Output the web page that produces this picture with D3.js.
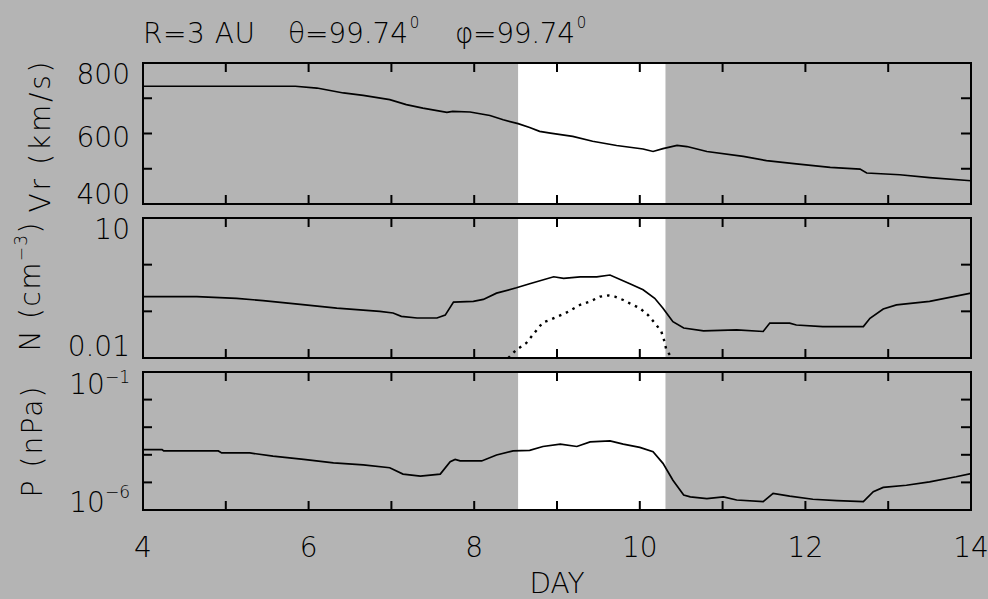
<!DOCTYPE html>
<html><head><meta charset="utf-8">
<script src="https://cdn.jsdelivr.net/npm/d3@7"></script>
<style>
html,body{margin:0;padding:0;background:#b4b4b4;}
svg{display:block;}
text{font-family:"DejaVu Sans ExtraLight","DejaVu Sans",sans-serif;font-weight:200;fill:#000;}
</style></head>
<body><svg id="c" width="988" height="599"></svg>
<script>
// ---- data ----
const xTickDays = [4,5,6,7,8,9,10,11,12,13,14];
const xLabelDays = [4,6,8,10,12,14];
const shadeStart = 8.53, shadeEnd = 10.31;

const vrDays = [4,5.84,6.1,6.42,6.66,6.98,7.18,7.38,7.67,7.74,7.95,8.19,8.35,8.53,8.67,8.79,8.92,9.19,9.43,9.72,10.04,10.16,10.28,10.45,10.57,10.81,11.25,11.53,11.89,12.30,12.66,12.74,13.14,13.50,14.0];
const vrVals = [734,734,729,715,708,696,682,672,660,663,661,651,639,628,617,606,601,592,578,566,556,549,557,566,563,549,535,523,514,504,499,488,483,475,466];
const vrTickLabels = [400,600,800];
const vrMinor = [500,600,700];

const nDays = [4,4.65,5.13,5.45,5.90,6.34,6.86,7.02,7.12,7.31,7.55,7.65,7.75,7.99,8.11,8.27,8.51,8.67,8.96,9.08,9.28,9.48,9.64,9.88,10.04,10.18,10.28,10.40,10.53,10.77,11.17,11.49,11.57,11.81,11.89,12.21,12.70,12.78,12.94,13.10,13.50,14.0];
const nVals = [0.206,0.206,0.19,0.17,0.141,0.117,0.10,0.092,0.078,0.072,0.072,0.083,0.158,0.163,0.18,0.245,0.32,0.39,0.55,0.51,0.55,0.55,0.60,0.39,0.29,0.19,0.117,0.060,0.044,0.038,0.040,0.037,0.056,0.056,0.051,0.047,0.047,0.071,0.112,0.137,0.163,0.245];
const nDotDays = [8.41,8.51,8.63,8.73,8.83,8.92,9.10,9.28,9.40,9.52,9.62,9.70,9.80,9.88,10.0,10.10,10.20,10.26,10.30,10.32,10.38];
const nDotVals = [0.010,0.015,0.021,0.035,0.058,0.066,0.091,0.138,0.163,0.206,0.22,0.206,0.175,0.148,0.117,0.083,0.051,0.037,0.022,0.015,0.0105];
const nTickLabels = ["0.01","10"];
const nMinor = [0.1,1];

const pDays = [4,4.23,4.25,4.91,4.95,5.29,5.57,5.94,6.30,6.66,6.98,7.14,7.35,7.59,7.71,7.77,7.83,8.09,8.27,8.47,8.67,8.83,9.04,9.24,9.40,9.64,9.80,10.0,10.16,10.28,10.40,10.53,10.61,10.81,11.01,11.17,11.49,11.61,11.81,12.09,12.38,12.70,12.82,12.94,13.22,13.50,13.82,14.0];
const pVals = [1.55e-4,1.55e-4,1.38e-4,1.38e-4,1.17e-4,1.17e-4,8.9e-5,6.8e-5,5.1e-5,4.3e-5,3.4e-5,2.0e-5,1.7e-5,2.0e-5,5.6e-5,6.8e-5,6.0e-5,6.0e-5,9.8e-5,1.38e-4,1.45e-4,2.0e-4,2.45e-4,2.0e-4,2.95e-4,3.2e-4,2.45e-4,1.86e-4,1.29e-4,4.9e-5,1.2e-5,3.5e-6,3.0e-6,2.6e-6,3.0e-6,2.3e-6,2.0e-6,4.0e-6,3.2e-6,2.45e-6,2.2e-6,2.0e-6,4.6e-6,6.6e-6,7.9e-6,1.05e-5,1.6e-5,2.1e-5];
const pTickLabels = [["10","−6"],["10","−1"]];
const pMinor = [1e-5,1e-4,1e-3,1e-2];

// ---- layout ----
const svg = d3.select("#c");
const L = 143, R = 971;
const x = d3.scaleLinear().domain([4,14]).range([L,R]);
const panels = [
  {top:63, bot:204, y: d3.scaleLinear().domain([400,800]).range([204,63]), minor: vrMinor},
  {top:218, bot:358, y: d3.scaleLog().domain([0.01,10]).range([358,218]), minor: nMinor},
  {top:372, bot:510, y: d3.scaleLog().domain([1e-6,1e-1]).range([510,372]), minor: pMinor}
];
svg.append("rect").attr("width",988).attr("height",599).attr("fill","#b4b4b4");

const fs = 28;
panels.forEach((p,i)=>{
  const g = svg.append("g");
  const cid = "clip"+i;
  svg.append("clipPath").attr("id",cid).append("rect")
    .attr("x",L).attr("y",p.top).attr("width",R-L).attr("height",p.bot-p.top);
  g.append("rect").attr("x",x(shadeStart)).attr("y",p.top)
    .attr("width",x(shadeEnd)-x(shadeStart)).attr("height",p.bot-p.top).attr("fill","#fff");
  const xt = xTickDays.slice(1,-1);
  g.selectAll(".xtb").data(xt).enter().append("line")
    .attr("x1",d=>x(d)).attr("x2",d=>x(d)).attr("y1",p.bot).attr("y2",p.bot-9)
    .attr("stroke","#000").attr("stroke-width",2);
  g.selectAll(".xtt").data(xt).enter().append("line")
    .attr("x1",d=>x(d)).attr("x2",d=>x(d)).attr("y1",p.top).attr("y2",p.top+9)
    .attr("stroke","#000").attr("stroke-width",2);
  g.selectAll(".ytl").data(p.minor).enter().append("line")
    .attr("x1",L).attr("x2",L+9).attr("y1",d=>p.y(d)).attr("y2",d=>p.y(d))
    .attr("stroke","#000").attr("stroke-width",2);
  g.selectAll(".ytr").data(p.minor).enter().append("line")
    .attr("x1",R).attr("x2",R-10).attr("y1",d=>p.y(d)).attr("y2",d=>p.y(d))
    .attr("stroke","#000").attr("stroke-width",2);
  p.g = g; p.cid = cid;
});

function drawLine(p, days, vals, dash){
  const line = d3.line().x((d,i)=>x(days[i])).y(d=>p.y(d));
  const path = p.g.append("path").datum(vals).attr("d",line)
    .attr("fill","none").attr("stroke","#000").attr("stroke-width",dash?2.4:1.7)
    .attr("clip-path","url(#"+p.cid+")");
  if(dash) path.attr("stroke-dasharray","2.5,5");
}
drawLine(panels[0], vrDays, vrVals);
drawLine(panels[1], nDays, nVals);
drawLine(panels[1], nDotDays, nDotVals, true);
drawLine(panels[2], pDays, pVals);

panels.forEach(p=>{
  svg.append("rect").attr("x",L).attr("y",p.top).attr("width",R-L).attr("height",p.bot-p.top)
    .attr("fill","none").attr("stroke","#000").attr("stroke-width",2);
});

// y tick labels
const baseOff = (k,n)=> k===0 ? 0 : (k===n-1 ? 21 : 13);
vrTickLabels.forEach((v,k)=>{
  svg.append("text").attr("x",L-13).attr("y",panels[0].y(v)+baseOff(k,vrTickLabels.length))
    .attr("text-anchor","end").attr("font-size",fs).text(v);
});
[0.01,10].forEach((v,k)=>{
  svg.append("text").attr("x",L-13).attr("y",panels[1].y(v)+baseOff(k,2)-(k===0?2:0))
    .attr("text-anchor","end").attr("font-size",fs).text(nTickLabels[k]);
});
[1e-6,1e-1].forEach((v,k)=>{
  const t = svg.append("text").attr("x",L-13).attr("y",panels[2].y(v)+baseOff(k,2)+(k===1?1:2))
    .attr("text-anchor","end").attr("font-size",fs);
  t.append("tspan").text(pTickLabels[k][0]);
  t.append("tspan").attr("dy",k===1?-11:-14).attr("font-size",17).text(pTickLabels[k][1]);
});

// x tick labels
xLabelDays.forEach(d=>{
  svg.append("text").attr("x",x(d)).attr("y",557).attr("text-anchor","middle")
    .attr("font-size",fs).text(d);
});
svg.append("text").attr("x",(L+R)/2).attr("y",593).attr("text-anchor","middle")
  .attr("font-size",fs).text("DAY");

// y axis titles
function ytitle(xb, yc, len, parts){
  const t = svg.append("text").attr("transform",`translate(${xb},${yc}) rotate(-90)`)
    .attr("text-anchor","middle").attr("font-size",fs)
    .attr("textLength",len).attr("lengthAdjust","spacing");
  parts.forEach(pt=>{
    const s = t.append("tspan").text(pt.t);
    if(pt.sup){ s.attr("font-size",17).attr("dy",-13); }
    if(pt.down){ s.attr("dy",13); }
  });
}
ytitle(50, 137, 151, [{t:"Vr (km/s)"}]);
ytitle(40, 287, 129, [{t:"N (cm"},{t:"−3",sup:true},{t:")",down:true}]);
ytitle(42, 442, 111, [{t:"P (nPa)"}]);

// title
function ttl(x0, main, len){
  const t = svg.append("text").attr("x",x0).attr("y",43).attr("font-size",fs);
  t.append("tspan").attr("textLength",len).attr("lengthAdjust","spacing").text(main);
  return t;
}
ttl(143, "R=3 AU", 112);
const t1 = ttl(288, "θ=99.74", 120);
t1.append("tspan").attr("dy",-15).attr("font-size",15).attr("dx",2).text("0");
const t2 = ttl(455, "φ=99.74", 120);
t2.append("tspan").attr("dy",-15).attr("font-size",15).attr("dx",2).text("0");
</script></body></html>
